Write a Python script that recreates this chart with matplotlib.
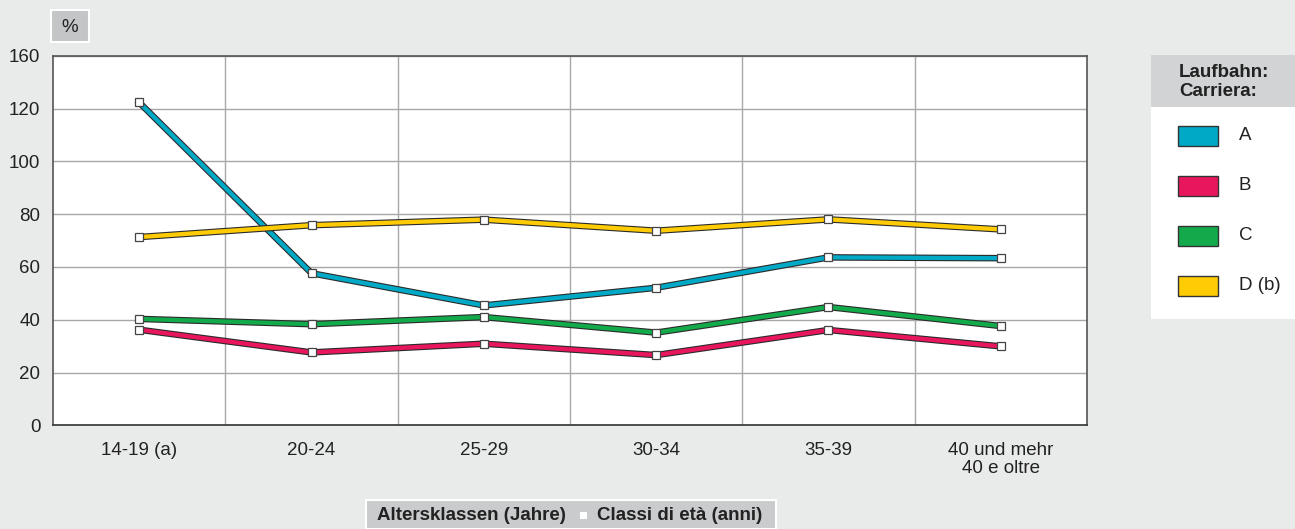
import matplotlib
matplotlib.use("Agg")
import matplotlib.pyplot as plt
import matplotlib.patheffects as pe
from matplotlib.patches import Rectangle

plt.rcParams["font.family"] = ["Liberation Sans", "DejaVu Sans"]

# data
categories = ["14-19 (a)", "20-24", "25-29", "30-34", "35-39", "40 und mehr\n40 e oltre"]
series_names = ["A", "B", "C", "D (b)"]
career_a = [122.3, 57.6, 45.4, 52.1, 63.6, 63.3]
career_b = [36.2, 27.6, 30.9, 26.6, 36.1, 29.9]
career_c = [40.3, 38.3, 41.0, 35.1, 44.8, 37.6]
career_d = [71.3, 75.8, 77.9, 73.7, 78.0, 74.2]
ytick_vals = [0, 20, 40, 60, 80, 100, 120, 140]
ytick_labels = ["0", "20", "40", "60", "80", "100", "120", "160"]

colors = ["#00a9c6", "#e8175d", "#12aa4b", "#ffcb05"]
bg = "#e9eaea"
txt = "#222222"
fs = 13.5

fig = plt.figure(figsize=(12.95, 5.29), dpi=100, facecolor=bg)
ax = fig.add_axes([53 / 1295, 1 - 425.3 / 529, (1087 - 53) / 1295, (425.3 - 55.7) / 529])
ax.set_facecolor("white")

x = list(range(len(categories)))
for vals, col in zip([career_a, career_b, career_c, career_d], colors):
    ax.plot(x, vals, color=col, lw=3.1, solid_joinstyle="miter", zorder=3,
            path_effects=[pe.Stroke(linewidth=4.7, foreground="#2a2a2a"), pe.Normal()])
    ax.plot(x, vals, ls="none", marker="s", ms=5.2, mfc="white", mec="#444444", mew=0.9, zorder=4)

ax.set_xlim(-0.5, 5.5)
ax.set_ylim(0, 140)
ax.set_yticks(ytick_vals)
ax.set_yticklabels(ytick_labels)
ax.set_xticks([i + 0.5 for i in x[:-1]], minor=True)
ax.set_xticks(x)
ax.set_xticklabels(categories, linespacing=1.1)
ax.tick_params(axis="both", which="both", length=0, labelsize=fs, colors=txt)
ax.tick_params(axis="y", pad=9)
ax.tick_params(axis="x", pad=12)
ax.grid(False)
ax.grid(True, which="minor", axis="x", color="#a8a8a8", lw=1.0, zorder=1)
ax.grid(True, which="major", axis="y", color="#a8a8a8", lw=1.0, zorder=1)
for s in ax.spines.values():
    s.set_color("#555555")
    s.set_linewidth(1.2)
ax.spines["bottom"].set_color("#333333")

# "%" box
fig.patches.append(Rectangle((51 / 1295, 1 - 42 / 529), 38 / 1295, 32 / 529,
                             transform=fig.transFigure, facecolor="#c4c5c7",
                             edgecolor="white", lw=1.5))
fig.text(70 / 1295, 1 - 27 / 529, "%", ha="center", va="center", fontsize=fs, color=txt)

# legend panel
fig.patches.append(Rectangle((1151 / 1295, 1 - 319 / 529), 144 / 1295, 264 / 529,
                             transform=fig.transFigure, facecolor="white", edgecolor="none"))
fig.patches.append(Rectangle((1151 / 1295, 1 - 107 / 529), 144 / 1295, 52 / 529,
                             transform=fig.transFigure, facecolor="#d2d3d5", edgecolor="none"))
fig.text(1179 / 1295, 1 - 82 / 529, "Laufbahn:\nCarriera:", ha="left", va="center",
         fontsize=fs, fontweight="bold", color=txt, linespacing=1.08)
for i, (name, col) in enumerate(zip(series_names, colors)):
    yc = 136 + 50 * i
    fig.patches.append(Rectangle((1178 / 1295, 1 - (yc + 10) / 529), 40 / 1295, 20 / 529,
                                 transform=fig.transFigure, facecolor=col,
                                 edgecolor="#333333", lw=1.0))
    fig.text(1239 / 1295, 1 - yc / 529, name, ha="left", va="center", fontsize=fs, color=txt)

# x axis title box
fig.patches.append(Rectangle((366 / 1295, 0), 410 / 1295, 29 / 529,
                             transform=fig.transFigure, facecolor="#cacbcd",
                             edgecolor="white", lw=1.5))
fig.text(566 / 1295, 13 / 529, "Altersklassen (Jahre)", ha="right", va="center",
         fontsize=fs, fontweight="bold", color=txt)
fig.patches.append(Rectangle((580 / 1295, 10 / 529), 7 / 1295, 7 / 529,
                             transform=fig.transFigure, facecolor="white", edgecolor="none"))
fig.text(597 / 1295, 13 / 529, "Classi di età (anni)", ha="left", va="center",
         fontsize=fs, fontweight="bold", color=txt)

fig.savefig("out.png", dpi=100, facecolor=bg)
